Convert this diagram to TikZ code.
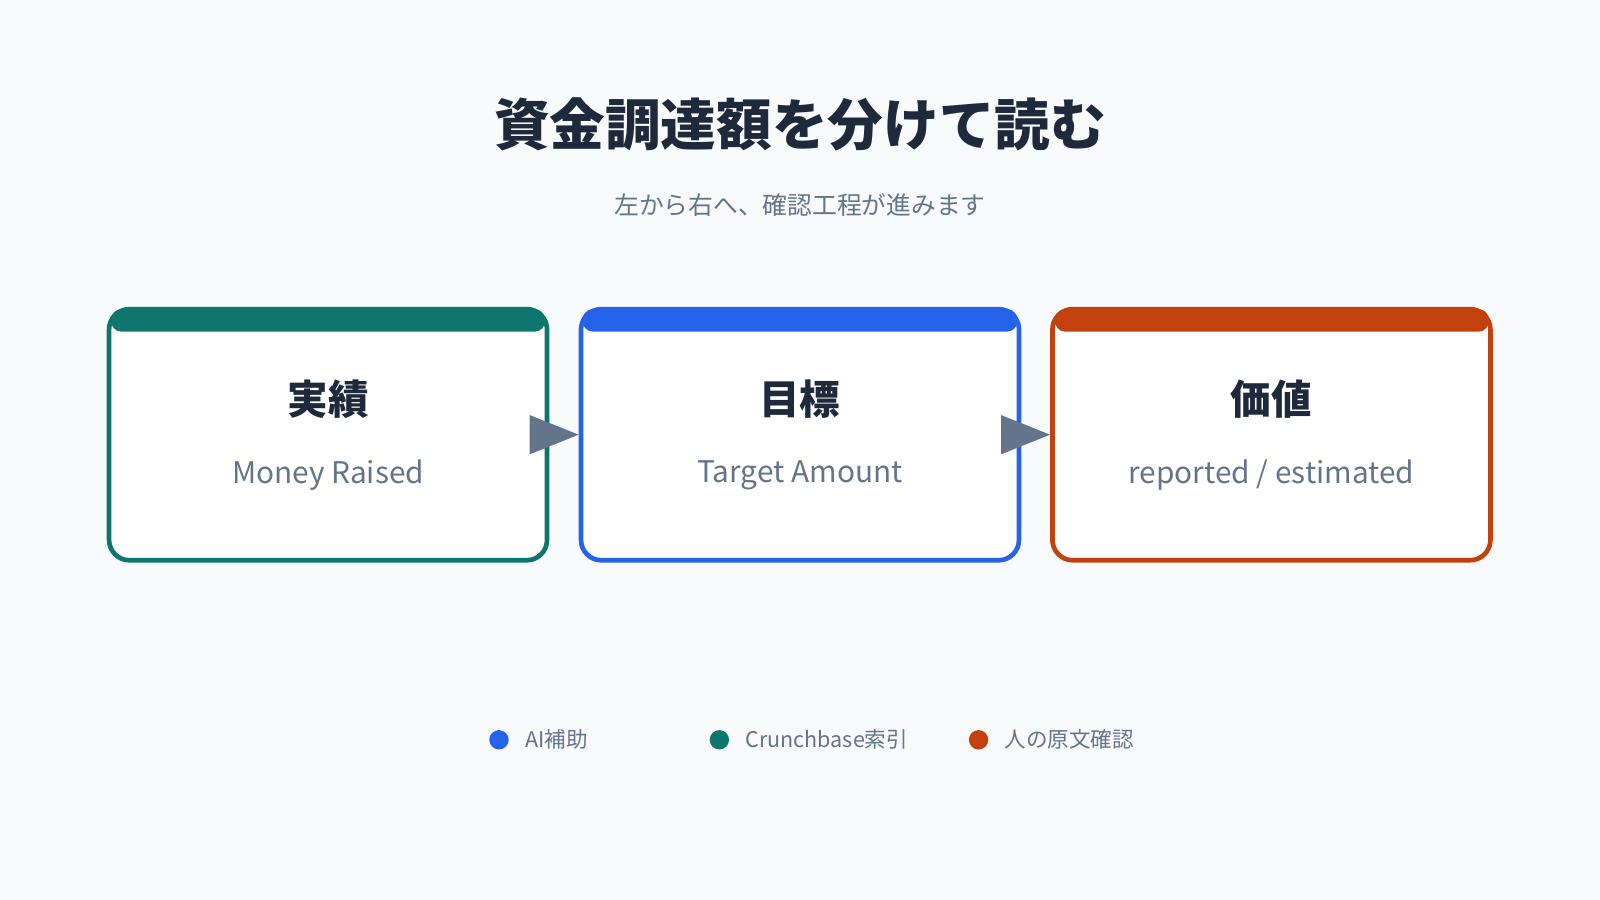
\documentclass[tikz,border=0pt]{standalone}
\usepackage{fontspec}
\setmainfont{Noto Sans CJK JP}
\usetikzlibrary{arrows.meta, positioning}
\definecolor{bg}{HTML}{F8FAFC}
\definecolor{ink}{HTML}{1E293B}
\definecolor{muted}{HTML}{64748B}
\definecolor{cgreen}{HTML}{0F766E}
\definecolor{cblue}{HTML}{2563EB}
\definecolor{corange}{HTML}{C2410C}
\begin{document}
\begin{tikzpicture}[
        x=0.01cm, y=-0.01cm,
        card/.style={rectangle, draw=#1, line width=1.3pt, fill=white, rounded corners=0.2cm, minimum width=4.29cm, minimum height=2.46cm},
        bar/.style={fill=#1, rounded corners=0.1cm},
        flow/.style={muted, line width=0.5pt, shorten <=-0.16cm, -{Triangle[length=0.48cm, width=0.38cm]}},
        head/.style={font=\bfseries\fontsize{11.3}{13}\selectfont, text=ink},
        sub/.style={font=\fontsize{8.3}{10}\selectfont, text=muted},
        dot/.style={circle, fill=#1, inner sep=0pt, minimum size=0.19cm},
        key/.style={font=\fontsize{6}{7}\selectfont, text=muted, anchor=west}
    ]
        \fill[bg] (0,0) rectangle (1568,882);

        % Title
        \node[font=\bfseries\fontsize{15.5}{18}\selectfont, text=ink] (title) at (784,122) {資金調達額を分けて読む};
        \node[font=\fontsize{6.9}{8}\selectfont, text=muted] (subtitle) at (784,201) {左から右へ、確認工程が進みます};

        % Cards
        \node[card=cgreen] (raised) at (321.5,426) {};
        \node[card=cblue] (target) at (784,426) {};
        \node[card=corange] (value) at (1246,426) {};
        \fill[bar=cgreen] (109,303) rectangle (534,325);
        \fill[bar=cblue] (571,303) rectangle (997,325);
        \fill[bar=corange] (1034,303) rectangle (1459,325);

        \node[head] (raisedHead) at (321.5,391) {実績};
        \node[sub] (raisedSub) at (321.5,466) {Money Raised};
        \node[head] (targetHead) at (784,391) {目標};
        \node[sub] (targetSub) at (784,466) {Target Amount};
        \node[head] (valueHead) at (1246,391) {価値};
        \node[sub] (valueSub) at (1246,466) {reported / estimated};

        % Arrows
        \draw[flow] (raised) -- (target);
        \draw[flow] (target) -- (value);

        % Legend
        \node[dot=cblue] (dotAI) at (489,725) {};
        \node[key, right=0.03cm of dotAI] (keyAI) {AI補助};
        \node[dot=cgreen] (dotCB) at (705,725) {};
        \node[key, right=0.03cm of dotCB] (keyCB) {Crunchbase索引};
        \node[dot=corange] (dotHuman) at (959,725) {};
        \node[key, right=0.03cm of dotHuman] (keyHuman) {人の原文確認};
\end{tikzpicture}
\end{document}
